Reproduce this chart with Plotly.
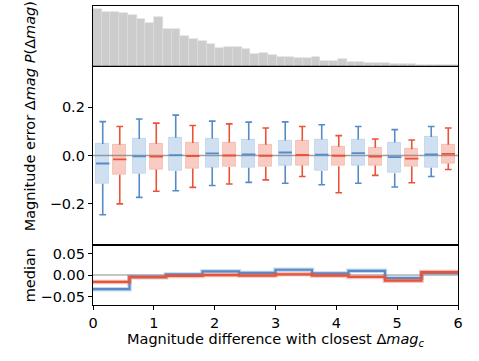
import plotly.graph_objects as go

# bins of the magnitude difference (shared by boxes and median steps)
bin_edges = [0.0, 0.6, 1.2, 1.8, 2.4, 3.0, 3.6, 4.2, 4.8, 5.4, 6.0]

# box statistics per bin, blue set
blue_low = [-0.245, -0.173, -0.146, -0.124, -0.111, -0.115, -0.121, -0.115, -0.130, -0.087]
blue_q1 = [-0.117, -0.075, -0.064, -0.049, -0.051, -0.041, -0.064, -0.041, -0.073, -0.051]
blue_q3 = [0.048, 0.068, 0.073, 0.070, 0.064, 0.062, 0.066, 0.066, 0.054, 0.076]
blue_high = [0.140, 0.151, 0.167, 0.142, 0.138, 0.139, 0.127, 0.120, 0.107, 0.120]
blue_med = [-0.033, -0.004, 0.0015, 0.0085, 0.005, 0.0125, 0.004, 0.010, -0.007, 0.005]

# box statistics per bin, red set
red_low = [-0.200, -0.148, -0.132, -0.118, -0.101, -0.087, -0.154, -0.082, -0.113, -0.058]
red_q1 = [-0.080, -0.058, -0.054, -0.048, -0.047, -0.041, -0.044, -0.041, -0.045, -0.033]
red_q3 = [0.044, 0.049, 0.052, 0.054, 0.044, 0.061, 0.036, 0.032, 0.026, 0.044]
red_high = [0.120, 0.134, 0.124, 0.131, 0.114, 0.120, 0.082, 0.068, 0.064, 0.114]
red_med = [-0.016, -0.005, -0.002, 0.0, -0.001, 0.002, -0.001, -0.0045, -0.013, 0.007]

# histogram of the magnitude difference (arbitrary units)
hist_width = 0.1437
hist_counts = [170, 160, 160, 159, 152, 139, 129, 147, 110, 110, 88, 81, 73, 64,
               54, 57, 57, 50, 34, 37, 31, 25, 25, 22, 22, 25, 14, 14, 20, 12,
               10, 9, 7, 7, 6, 5, 4, 3, 2, 2, 1, 1]

BLUE = "rgb(86,139,201)"
RED = "rgb(233,83,56)"
FONT = "DejaVu Sans"
FS = 14.5

centers = [(a + b) / 2 for a, b in zip(bin_edges[:-1], bin_edges[1:])]
offset = 0.14
box_w = 0.22
cap = 0.055


def box_traces(pos, low, q1, med, q3, high, color, fill, edge):
    traces = []
    traces.append(go.Bar(x=pos, y=[b - a for a, b in zip(q1, q3)], base=q1, width=box_w,
                         marker=dict(color=fill, line=dict(color=edge, width=1)),
                         xaxis="x2", yaxis="y2", showlegend=False, hoverinfo="skip"))
    wx, wy = [], []
    for p, lo, a, b, hi in zip(pos, low, q1, q3, high):
        wx += [p, p, None, p, p, None, p - cap, p + cap, None, p - cap, p + cap, None]
        wy += [b, hi, None, a, lo, None, hi, hi, None, lo, lo, None]
    traces.append(go.Scatter(x=wx, y=wy, mode="lines", line=dict(color=color, width=1.6),
                             xaxis="x2", yaxis="y2", showlegend=False, hoverinfo="skip"))
    mx, my = [], []
    for p, m in zip(pos, med):
        mx += [p - box_w / 2, p + box_w / 2, None]
        my += [m, m, None]
    traces.append(go.Scatter(x=mx, y=my, mode="lines", line=dict(color=color, width=1.8),
                             xaxis="x2", yaxis="y2", showlegend=False, hoverinfo="skip"))
    return traces


fig = go.Figure()

# top histogram
fig.add_trace(go.Bar(x=[hist_width * (i + 0.5) for i in range(len(hist_counts))], y=hist_counts,
                     width=hist_width,
                     marker=dict(color="rgb(204,204,204)", line=dict(color="rgb(222,222,222)", width=0.6)),
                     xaxis="x3", yaxis="y3", showlegend=False, hoverinfo="skip"))

# boxes
blue_pos = [c - offset for c in centers]
red_pos = [c + offset for c in centers]
for t in box_traces(blue_pos, blue_low, blue_q1, blue_med, blue_q3, blue_high,
                    BLUE, "rgba(86,139,201,0.27)", "rgba(86,139,201,0.22)"):
    fig.add_trace(t)
for t in box_traces(red_pos, red_low, red_q1, red_med, red_q3, red_high,
                    RED, "rgba(233,83,56,0.30)", "rgba(233,83,56,0.22)"):
    fig.add_trace(t)

# median steps
for med, col, halo in [(blue_med, BLUE, "rgba(86,139,201,0.35)"), (red_med, RED, "rgba(233,83,56,0.35)")]:
    fig.add_trace(go.Scatter(x=bin_edges, y=med + [med[-1]], mode="lines", line_shape="hv",
                             line=dict(color=halo, width=4.5), showlegend=False, hoverinfo="skip"))
    fig.add_trace(go.Scatter(x=bin_edges, y=med + [med[-1]], mode="lines", line_shape="hv",
                             line=dict(color=col, width=2.2), showlegend=False, hoverinfo="skip"))

axis_common = dict(showline=True, linecolor="black", linewidth=1.3, mirror=True,
                   showgrid=False, zeroline=False, ticks="outside", ticklen=4,
                   tickwidth=1.1, tickcolor="black",
                   tickfont=dict(family=FONT, size=FS, color="black"))

fig.update_layout(
    width=479, height=361,
    margin=dict(l=93, r=21, t=6, b=56),
    paper_bgcolor="white", plot_bgcolor="white",
    barmode="overlay", bargap=0,
    font=dict(family=FONT, size=FS, color="black"),
    xaxis=dict(axis_common, domain=[0, 1], anchor="y", range=[0, 6],
               tickvals=[0, 1, 2, 3, 4, 5, 6]),
    xaxis2=dict(axis_common, domain=[0, 1], anchor="y2", range=[0, 6], matches="x",
                ticks="", showticklabels=False),
    xaxis3=dict(axis_common, domain=[0, 1], anchor="y3", range=[0, 6], matches="x",
                ticks="", showticklabels=False),
    yaxis=dict(axis_common, domain=[0, 0.2], range=[-0.07, 0.07],
               tickvals=[-0.05, 0, 0.05], ticktext=["\u22120.05", "0.00", "0.05"]),
    yaxis2=dict(axis_common, domain=[0.2, 0.8], range=[-0.371, 0.371],
                tickvals=[-0.2, 0, 0.2], ticktext=["\u22120.2", "0.0", "0.2"]),
    yaxis3=dict(axis_common, domain=[0.8, 1], range=[0, 179],
                ticks="", showticklabels=False),
    shapes=[
        dict(type="line", xref="x domain", yref="y2", x0=0, x1=1, y0=0, y1=0,
             line=dict(color="rgba(128,128,128,0.75)", width=1.6), layer="below"),
        dict(type="line", xref="x domain", yref="y", x0=0, x1=1, y0=0, y1=0,
             line=dict(color="rgba(160,160,160,0.8)", width=1.5), layer="below"),
    ],
    annotations=[
        dict(text="<i>P</i>(\u0394<i>mag</i>)", xref="paper", yref="paper", x=-0.172, y=0.913,
             textangle=-90, showarrow=False, xanchor="center", yanchor="middle",
             font=dict(family=FONT, size=FS)),
        dict(text="Magnitude error \u0394<i>mag</i>", xref="paper", yref="paper", x=-0.172, y=0.518,
             textangle=-90, showarrow=False, xanchor="center", yanchor="middle",
             font=dict(family=FONT, size=FS)),
        dict(text="median", xref="paper", yref="paper", x=-0.172, y=0.1,
             textangle=-90, showarrow=False, xanchor="center", yanchor="middle",
             font=dict(family=FONT, size=FS)),
        dict(text="Magnitude difference with closest \u0394<i>mag</i><sub><i>c</i></sub>",
             xref="paper", yref="paper", x=0.5, y=-0.116, showarrow=False,
             xanchor="center", yanchor="middle", font=dict(family=FONT, size=FS)),
    ],
)

# page body has a default margin; drop it so the figure sits at the window origin
fig.write_html("out.html", config={"displayModeBar": False},
               post_script="document.body.style.margin='0';")
